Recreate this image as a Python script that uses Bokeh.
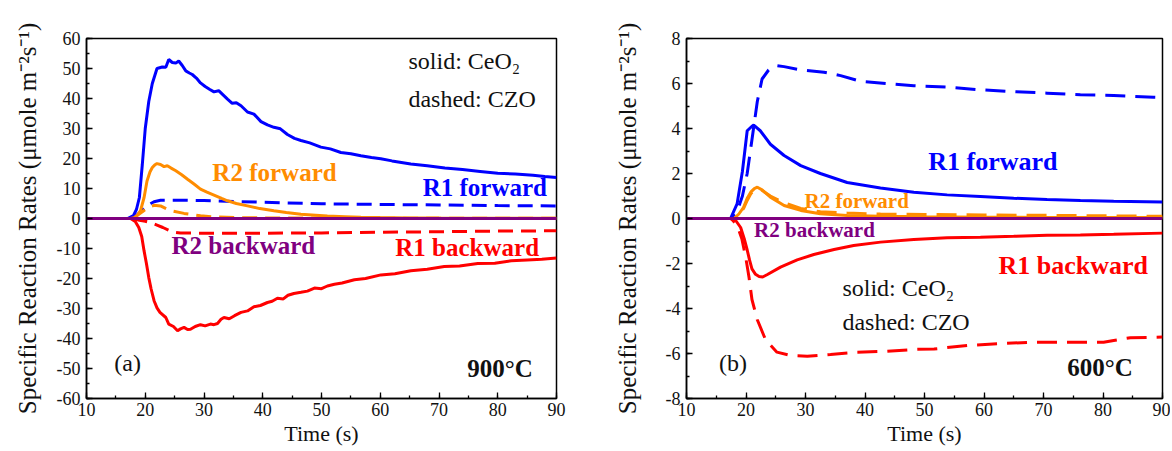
from bokeh.plotting import figure
from bokeh.models import Label, SingleIntervalTicker, Range1d
from bokeh.layouts import row
from bokeh.embed import file_html
from bokeh.resources import INLINE

# ---------------- data : panel (a) 900 C ----------------
a_r1f_s_x = [10, 17, 18, 18.5, 19, 19.5, 20, 20.6, 21.2, 22, 22.9, 23.5, 24, 24.6, 25.2, 25.7, 26.3, 26.9, 27.5,
             28, 28.7, 29.4, 30.2, 31, 31.7, 32.5, 33.2, 34, 34.8, 35.5, 36.3, 37.4, 38.5, 39.7, 40.8, 41.9, 43,
             44.2, 45.4, 46.5, 48, 49.9, 51.5, 53.3, 55, 56.7, 58.5, 60.1, 62, 65.2, 68, 71, 74, 77, 80, 83, 86,
             88, 90]
a_r1f_s_y = [0, 0, 1, 3, 7, 18, 30, 39, 45, 50, 50.5, 50.4, 53, 52, 51.8, 52.5, 51, 49.2, 48.5,
             48, 46.8, 45.2, 44, 43, 42.2, 42.6, 41.3, 39.8, 38.4, 38.6, 37.6, 35.5, 34.8, 32.3, 31.2, 30.4, 29.9,
             28, 26.7, 26, 25.2, 23.8, 23.2, 22, 21.6, 20.9, 20.3, 19.9, 19.2, 18.2, 17.6, 16.8, 16.3, 15.7, 15.1,
             14.8, 14.4, 14, 13.7]
a_r2f_s_x = [10, 17.5, 18.1, 18.7, 19.2, 19.8, 20.3, 20.8, 21.2, 21.6, 22, 22.6, 23.2, 23.75, 24.4, 25.2, 26.2,
             27.2, 28.3, 29.4, 30.5, 31.7, 33, 34, 35.5, 37.4, 39.5, 41.9, 44, 46.5, 49, 51, 54, 56.7, 60, 65,
             70, 80, 90]
a_r2f_s_y = [0, 0, 0.3, 1.2, 2.6, 7, 12.5, 15.5, 17, 17.8, 18.3, 18, 17.3, 17.6, 16.8, 15.9, 14.6,
             13.1, 11.5, 9.8, 8.8, 7.8, 6.7, 5.9, 5, 4.2, 3.3, 2.6, 2, 1.4, 1.1, 0.8, 0.6, 0.4, 0.3, 0.2,
             0.15, 0.1, 0.1]
a_r1f_d_x = [10, 17.5, 18.5, 19.5, 20.5, 21.5, 22.6, 26, 30, 40, 50, 60, 70, 80, 90]
a_r1f_d_y = [0, 0, 1, 2.8, 4.5, 5.6, 6.1, 6.1, 6.0, 5.4, 4.9, 4.7, 4.5, 4.3, 4.2]
a_r2f_d_x = [10, 17.5, 18.5, 19.5, 20.3, 21.5, 22.6, 24.3, 26.6, 29.4, 32, 36, 40, 50, 60, 90]
a_r2f_d_y = [0, 0, 0.8, 2.2, 3.5, 4.4, 4.2, 2.6, 1.7, 0.9, 0.5, 0.3, 0.2, 0.15, 0.1, 0.1]
a_r1b_d_x = [10, 18, 19, 20, 21, 22, 23, 24, 25, 26, 30, 40, 50, 60, 70, 80, 90]
a_r1b_d_y = [0, 0, -0.6, -0.9, -1.4, -2.2, -3.0, -3.9, -4.6, -4.85, -4.9, -4.9, -4.8, -4.6, -4.4, -4.2, -4.1]
a_r1b_s_x = [10, 17.5, 18.3, 18.9, 19.4, 19.8, 20.2, 20.6, 21, 21.5, 22, 22.5, 23.5, 24, 24.8, 25.5, 26, 26.6,
             27.2, 27.7, 28.5, 29.4, 30.2, 31.1, 31.7, 32.3, 32.9, 33.4, 34.3, 35.2, 36.3, 37.4, 38.5, 39.6,
             40.8, 41.6, 42.5, 43.5, 44.3, 45.3, 46.5, 47.6, 48.8, 50, 51, 52.2, 53.5, 55.6, 57.5, 60.1, 62.5,
             65.2, 68, 70.9, 73.5, 76.6, 79.5, 82.3, 85, 87.5, 90]
a_r1b_s_y = [0, 0, -1, -3, -6, -10.8, -15, -19.7, -23.5, -27.4, -29.8, -31.3, -33, -35.2, -36, -37.4, -36.8,
             -36.3, -37, -36.9, -36, -35.4, -35.8, -35.2, -35.4, -35, -33.6, -33, -33.4, -32.4, -31.3, -30.8,
             -29.4, -29, -28, -27.6, -26.6, -26.8, -25.6, -25, -24.6, -24.2, -23.2, -23.4, -22.5, -21.9, -21.5,
             -20.4, -20, -18.8, -18.4, -17.4, -16.9, -16, -15.8, -15, -14.9, -14.1, -13.8, -13.6, -13.2]
a_r2b_x = [10, 90]
a_r2b_y = [0, 0]

# ---------------- data : panel (b) 600 C ----------------
b_r1f_d_x = [10, 17.4, 18.5, 19.4, 20.2, 21, 21.9, 22.7, 23.8, 25, 26.4, 29.2, 33.1, 35.9, 39.2, 43.7, 48.2,
             53.8, 59.4, 65, 70.6, 76.2, 81.8, 88.5, 90]
b_r1f_d_y = [0, 0, 0.3, 1, 2, 3.5, 5.2, 6.2, 6.6, 6.8, 6.75, 6.6, 6.5, 6.35, 6.1, 6.0, 5.9,
             5.84, 5.72, 5.64, 5.57, 5.5, 5.47, 5.39, 5.38]
b_r1f_s_x = [10, 17.4, 18.5, 19.4, 20.2, 21, 21.3, 22.4, 24.1, 26.4, 29.2, 32.5, 37, 42.6, 48.2, 53.8, 59.4,
             65, 70.6, 76.2, 81.8, 90]
b_r1f_s_y = [0, 0, 0.65, 2.1, 3.9, 4.1, 4.15, 3.9, 3.3, 2.8, 2.35, 2.0, 1.6, 1.36, 1.17, 1.05, 0.98,
             0.9, 0.84, 0.8, 0.77, 0.73]
b_r2f_s_x = [10, 18, 18.8, 19.6, 20.2, 20.8, 21.4, 21.9, 22.7, 24.1, 26.4, 29.2, 32.5, 37, 42.6, 50, 60, 70, 80, 90]
b_r2f_s_y = [0, 0, 0.2, 0.5, 0.9, 1.17, 1.33, 1.39, 1.27, 0.95, 0.58, 0.36, 0.21, 0.13, 0.1, 0.08, 0.06, 0.05,
             0.05, 0.05]
b_r2f_d_x = [10, 18, 18.8, 19.6, 20.2, 20.8, 21.4, 22, 22.7, 24.1, 26.4, 29.2, 32.5, 37, 42.6, 50, 60, 70, 80, 90]
b_r2f_d_y = [0, 0, 0.15, 0.45, 0.8, 1.1, 1.25, 1.3, 1.25, 1.0, 0.7, 0.45, 0.3, 0.24, 0.2, 0.18, 0.16, 0.14,
             0.12, 0.1]
b_r1b_s_x = [10, 17.4, 18.3, 19.1, 19.7, 20.2, 20.6, 21, 21.6, 22.2, 22.8, 23.6, 25.8, 28.6, 31.4, 34.8, 38.1,
             42.6, 48.2, 53.8, 59.4, 65, 70.6, 76.2, 81.8, 90]
b_r1b_s_y = [0, 0, -0.1, -0.4, -0.9, -1.4, -1.85, -2.24, -2.48, -2.58, -2.6, -2.49, -2.16, -1.84, -1.6, -1.38,
             -1.2, -1.05, -0.93, -0.86, -0.83, -0.79, -0.74, -0.73, -0.7, -0.65]
b_r1b_d_x = [10, 17.5, 18.5, 19.3, 20, 20.5, 21, 21.9, 23.3, 25.2, 27.5, 30.3, 34.2, 38.7, 43.7, 48.2, 51.6,
             57.2, 62.2, 67.8, 73.4, 80.1, 81.8, 84.6, 90]
b_r1b_d_y = [0, 0, -0.3, -0.9, -1.8, -2.6, -3.6, -4.5, -5.4, -5.94, -6.09, -6.12, -6.04, -5.94, -5.9, -5.82,
             -5.8, -5.64, -5.57, -5.5, -5.5, -5.5, -5.42, -5.3, -5.27]
b_r2b_x = [10, 90]
b_r2b_y = [0, 0]

# ---------------- ticks ----------------
x_ticks = [10, 20, 30, 40, 50, 60, 70, 80, 90]
a_y_ticks = [-60, -50, -40, -30, -20, -10, 0, 10, 20, 30, 40, 50, 60]
b_y_ticks = [-8, -6, -4, -2, 0, 2, 4, 6, 8]

FONT = "Liberation Serif"
BLUE = "#0000FF"
ORANGE = "#FF8C00"
RED = "#FF0000"
PURPLE = "#800080"
YLABEL = "Specific Reaction Rates (\u03bcmole m\u207b\u00b2s\u207b\u00b9)"


def make_fig(width, border_left, border_right, yticks, yint, label_standoff):
    p = figure(width=width, height=449,
               x_range=Range1d(10, 90), y_range=Range1d(yticks[0], yticks[-1]),
               output_backend="svg", toolbar_location=None,
               min_border_left=border_left, min_border_right=border_right,
               min_border_top=38, min_border_bottom=51,
               x_axis_label="Time (s)", y_axis_label=YLABEL)
    p.xgrid.visible = False
    p.ygrid.visible = False
    p.outline_line_color = "black"
    p.outline_line_width = 1.5
    p.outline_line_alpha = 1
    p.xaxis.ticker = SingleIntervalTicker(interval=10, num_minor_ticks=2)
    p.yaxis.ticker = SingleIntervalTicker(interval=yint, num_minor_ticks=2)
    p.xaxis.major_label_overrides = {v: str(v) for v in x_ticks}
    p.yaxis.major_label_overrides = {v: str(v) for v in yticks}
    for ax in (p.xaxis[0], p.yaxis[0]):
        ax.axis_line_color = "black"
        ax.axis_line_width = 1.5
        ax.major_tick_in = 6
        ax.major_tick_out = 0
        ax.minor_tick_in = 3
        ax.minor_tick_out = 0
        ax.major_tick_line_color = "black"
        ax.minor_tick_line_color = "black"
        ax.major_tick_line_width = 1.3
        ax.minor_tick_line_width = 1.3
        ax.major_label_text_font = FONT
        ax.major_label_text_font_size = "18px"
        ax.major_label_text_color = "#111111"
        ax.axis_label_text_font = FONT
        ax.axis_label_text_font_style = "normal"
        ax.axis_label_text_color = "#111111"
    p.xaxis.axis_label_text_font_size = "22px"
    p.yaxis.axis_label_text_font_size = "25px"
    p.xaxis.major_label_standoff = 4
    p.xaxis.axis_label_standoff = 2
    p.yaxis.major_label_standoff = 6
    p.yaxis.axis_label_standoff = label_standoff
    return p


def label(p, x, y, text, color, size, bold=True, align="center"):
    p.add_layout(Label(x=x, y=y, text=text, text_color=color, text_font=FONT,
                       text_font_size=size, text_font_style="bold" if bold else "normal",
                       text_align=align, text_baseline="middle"))


# ---------------- panel (a) ----------------
p1 = make_fig(608, 86, 52, a_y_ticks, 10, 13)
LW = 3
p1.line(a_r1f_d_x, a_r1f_d_y, color=BLUE, line_width=LW, line_dash="15 8")
p1.line(a_r2f_d_x, a_r2f_d_y, color=ORANGE, line_width=LW, line_dash="15 8")
p1.line(a_r1b_d_x, a_r1b_d_y, color=RED, line_width=LW, line_dash="15 8")
p1.line(a_r1f_s_x, a_r1f_s_y, color=BLUE, line_width=LW)
p1.line(a_r2f_s_x, a_r2f_s_y, color=ORANGE, line_width=LW)
p1.line(a_r1b_s_x, a_r1b_s_y, color=RED, line_width=LW)
p1.line(a_r2b_x, a_r2b_y, color=PURPLE, line_width=LW, line_dash="15 8")
p1.line(a_r2b_x, a_r2b_y, color=PURPLE, line_width=LW)

label(p1, 64.8, 52.5, "solid: CeO\u2082", "#111111", "24px", bold=False, align="left")
label(p1, 64.8, 40.0, "dashed: CZO", "#111111", "24px", bold=False, align="left")
label(p1, 42.0, 15.3, "R2 forward", ORANGE, "25px")
label(p1, 77.8, 10.3, "R1 forward", BLUE, "25px")
label(p1, 36.7, -9.0, "R2 backward", PURPLE, "25px")
label(p1, 74.8, -9.6, "R1 backward", RED, "25px")
label(p1, 17.0, -48.0, "(a)", "#111111", "24px", bold=False)
label(p1, 80.4, -50.0, "900\u00b0C", "#111111", "25px")

# ---------------- panel (b) ----------------
p2 = make_fig(562, 78, 8, b_y_ticks, 2, 22)
p2.line(b_r1f_d_x, b_r1f_d_y, color=BLUE, line_width=LW, line_dash="20 10")
p2.line(b_r2f_d_x, b_r2f_d_y, color=ORANGE, line_width=LW, line_dash="20 10")
p2.line(b_r1b_d_x, b_r1b_d_y, color=RED, line_width=LW, line_dash="20 10")
p2.line(b_r1f_s_x, b_r1f_s_y, color=BLUE, line_width=LW)
p2.line(b_r2f_s_x, b_r2f_s_y, color=ORANGE, line_width=LW)
p2.line(b_r1b_s_x, b_r1b_s_y, color=RED, line_width=LW)
p2.line(b_r2b_x, b_r2b_y, color=PURPLE, line_width=LW, line_dash="20 10")
p2.line(b_r2b_x, b_r2b_y, color=PURPLE, line_width=LW)

label(p2, 61.5, 2.53, "R1 forward", BLUE, "26px")
label(p2, 38.6, 0.76, "R2 forward", ORANGE, "21px")
label(p2, 31.5, -0.53, "R2 backward", PURPLE, "21px")
label(p2, 75.0, -2.09, "R1 backward", RED, "26px")
label(p2, 36.2, -3.07, "solid: CeO\u2082", "#111111", "24px", bold=False, align="left")
label(p2, 36.2, -4.62, "dashed: CZO", "#111111", "24px", bold=False, align="left")
label(p2, 17.8, -6.44, "(b)", "#111111", "24px", bold=False)
label(p2, 79.5, -6.6, "600\u00b0C", "#111111", "25px")

layout = row(p1, p2)
open("out.html", "w").write(file_html(layout, INLINE))
